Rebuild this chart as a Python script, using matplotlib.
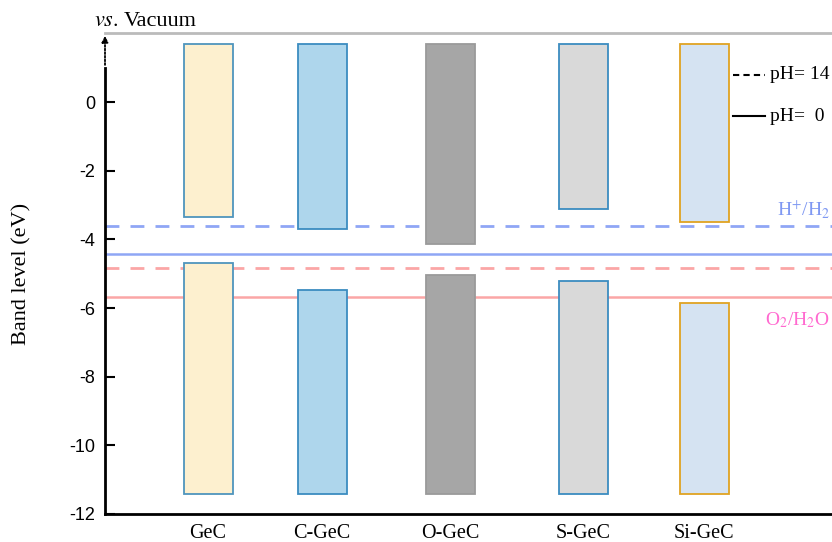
import matplotlib.pyplot as plt
from matplotlib.patches import Rectangle

# band edges (eV vs. vacuum)
materials = ["GeC", "C-GeC", "O-GeC", "S-GeC", "Si-GeC"]
cbm = [-3.35, -3.70, -4.14, -3.12, -3.50]
vbm = [-4.69, -5.48, -5.04, -5.22, -5.86]
band_top = 1.70
band_bottom = -11.43

# redox potentials
h_ph0, h_ph14 = -4.44, -3.61
o_ph0, o_ph14 = -5.67, -4.84

fills = ["#fdf0cf", "#aed6ec", "#a6a6a6", "#d9d9d9", "#d5e3f2"]
edges = ["#4f95bd", "#3b8cc0", "#9a9a9a", "#3b8cc0", "#e0a322"]
xpos = [1.03, 2.17, 3.45, 4.78, 5.99]
width = 0.49

plt.rcParams['font.family'] = ['Liberation Sans', 'DejaVu Sans']
plt.rcParams['axes.unicode_minus'] = False
serif = ['Liberation Serif', 'DejaVu Serif']

fig = plt.figure(figsize=(8.32, 5.42), dpi=100)
ax = fig.add_axes([105 / 832, 28 / 542, 727 / 832, (514 - 33) / 542])
ax.set_xlim(0, 7.27)
ax.set_ylim(-12, 2.01)

# redox lines (behind bars)
ax.axhline(h_ph14, color="#8fa6f5", lw=2, ls=(0, (5, 4)), zorder=1)
ax.axhline(h_ph0, color="#8fa6f5", lw=1.8, zorder=1)
ax.axhline(o_ph14, color="#fba6a6", lw=2, ls=(0, (5, 4)), zorder=1)
ax.axhline(o_ph0, color="#fba6a6", lw=1.8, zorder=1)

for x, c, v, fc, ec in zip(xpos, cbm, vbm, fills, edges):
    ax.add_patch(Rectangle((x - width / 2, c), width, band_top - c,
                           facecolor=fc, edgecolor=ec, lw=1.3, zorder=2))
    ax.add_patch(Rectangle((x - width / 2, band_bottom), width, v - band_bottom,
                           facecolor=fc, edgecolor=ec, lw=1.3, zorder=2))

ax.set_xticks(xpos)
ax.set_xticklabels(materials, family=serif, fontsize=14.5)
ax.tick_params(axis='x', length=0, pad=7)
ax.set_yticks(range(-12, 1, 2))
ax.tick_params(axis='y', direction='in', length=7, width=1.5, labelsize=13, pad=7)
ax.set_ylabel("Band level (eV)", family=serif, fontsize=16, labelpad=27)

ax.spines['right'].set_visible(False)
ax.spines['top'].set_color("#bbbbbb")
ax.spines['top'].set_linewidth(2)
ax.spines['left'].set_linewidth(2)
ax.spines['left'].set_bounds(-12, 1.0)
ax.spines['bottom'].set_linewidth(2)

# dotted arrow continuing the y axis
ax.annotate("", xy=(0, 2.01), xytext=(0, 1.0), xycoords='data',
            arrowprops=dict(arrowstyle="-|>", ls=(0, (1, 1)), lw=1.3,
                            color="black", mutation_scale=9),
            annotation_clip=False)
fig.text(94 / 832, 1 - 21 / 542, "$\\it{vs.}$", family=serif, fontsize=16,
         va='center', ha='left', math_fontfamily='stix')
fig.text(124 / 832, 1 - 21 / 542, "Vacuum", family=serif, fontsize=16,
         va='center', ha='left')

# legend for pH
ax.plot([6.28, 6.60], [0.79, 0.79], color="black", lw=1.5, ls=(0, (3, 2)), clip_on=False)
ax.text(6.65, 0.79, "pH= 14", family=serif, fontsize=14, va='center')
ax.plot([6.28, 6.60], [-0.41, -0.41], color="black", lw=1.5, clip_on=False)
ax.text(6.65, -0.41, "pH=  0", family=serif, fontsize=14, va='center')

ax.text(7.25, -3.15, "H$^{+}$/H$_2$", family=serif, fontsize=14, color="#7f98f2",
        va='center', ha='right', math_fontfamily='stix')
ax.text(7.25, -6.36, "O$_2$/H$_2$O", family=serif, fontsize=14, color="#ff6ad0",
        va='center', ha='right', math_fontfamily='stix')

fig.savefig("out.png", dpi=100)
